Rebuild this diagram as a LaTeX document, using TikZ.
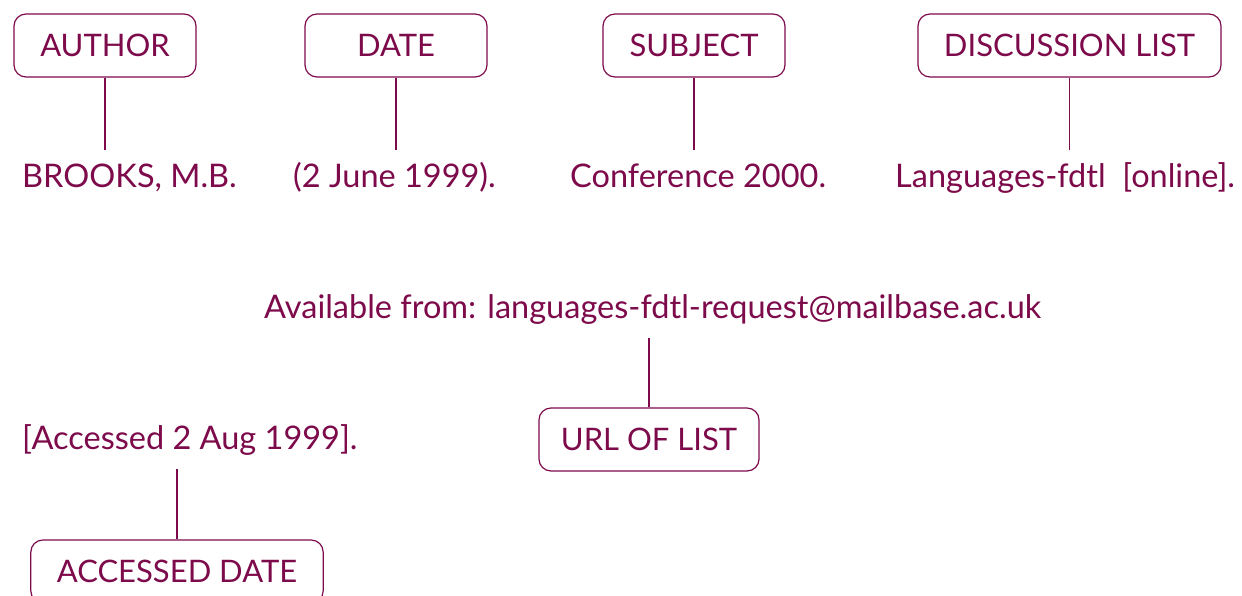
\documentclass[tikz,border=0pt]{standalone}
\usepackage{fontspec}
\setmainfont{Lato}
\definecolor{plum}{RGB}{125,10,75}
\tikzset{
  tag/.style={draw=plum, rounded corners=12pt, line width=1.2pt,
    minimum width=182pt, minimum height=63pt, inner xsep=26pt,
    text=plum, font=\fontsize{31}{37}\selectfont},
  entry/.style={text=plum, anchor=base west, inner xsep=0pt, inner ysep=12pt,
    text height=26pt, text depth=8pt, font=\fontsize{32.5}{38}\selectfont},
  link/.style={draw=plum, line width=1.2pt}
}
\begin{document}
\begin{tikzpicture}[x=1pt, y=-1pt]
  \useasboundingbox (0,0) rectangle (1242,596);
  % labels
  \node[tag] (author) at (105,45.5) {AUTHOR};
  \node[tag] (date) at (396,45.5) {DATE};
  \node[tag] (subject) at (694,45.5) {SUBJECT};
  \node[tag] (list) at (1069.5,45.5) {DISCUSSION LIST};
  \node[tag, inner xsep=22pt] (url) at (649,439.5) {URL OF LIST};
  \node[tag] (accessed) at (177,571.5) {ACCESSED DATE};
  % reference parts
  \node[entry] (brooks) at (22,188) {BROOKS, M.B.};
  \node[entry] (when) at (293,188) {(2 June 1999).};
  \node[entry] (conf) at (570,188) {Conference 2000.};
  \node[entry] (lang) at (895,188) {Languages-fdtl\ \ [online].};
  \node[entry] (avail) at (264,318) {Available from: languages-fdtl-request@mailbase.ac.uk};
  \node[entry] (acc) at (22,449) {[Accessed 2 Aug 1999].};
  % links
  \draw[link] (author.south) -- (author.south |- brooks.north);
  \draw[link] (date.south) -- (date.south |- when.north);
  \draw[link] (subject.south) -- (subject.south |- conf.north);
  \draw[link] (list.south) -- (list.south |- lang.north);
  \draw[link] (url.north) -- (url.north |- avail.south);
  \draw[link] (accessed.north) -- (accessed.north |- acc.south);
\end{tikzpicture}
\end{document}
